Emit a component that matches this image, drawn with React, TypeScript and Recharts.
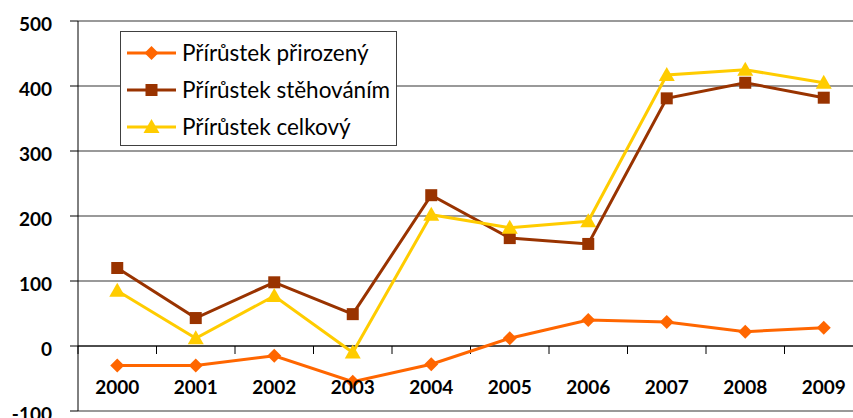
import { LineChart, Line, XAxis, YAxis, CartesianGrid, ReferenceLine, Legend } from 'recharts';

const years = ['2000', '2001', '2002', '2003', '2004', '2005', '2006', '2007', '2008', '2009'];
const prirozeny = [-30, -30, -15, -55, -28, 12, 40, 37, 22, 28];
const stehovanim = [120, 43, 98, 49, 232, 166, 157, 381, 405, 382];
const celkovy = [85, 12, 77, -10, 202, 182, 192, 417, 425, 405];
const yTicks = [-100, 0, 100, 200, 300, 400, 500];

const series = [
  { key: 'prirozeny', name: 'Přírůstek přirozený', color: '#FF6600', shape: 'diamond' },
  { key: 'stehovanim', name: 'Přírůstek stěhováním', color: '#993300', shape: 'square' },
  { key: 'celkovy', name: 'Přírůstek celkový', color: '#FFCC00', shape: 'triangle' },
];

const data = years.map((year, i) => ({
  year,
  prirozeny: prirozeny[i],
  stehovanim: stehovanim[i],
  celkovy: celkovy[i],
}));

const FONT = 'Lato, "Open Sans", sans-serif';

function marker(shape: string, cx: number, cy: number, color: string, key?: string | number) {
  if (shape === 'diamond') {
    return <polygon key={key} points={`${cx},${cy - 7} ${cx + 7},${cy} ${cx},${cy + 7} ${cx - 7},${cy}`} fill={color} />;
  }
  if (shape === 'square') {
    return <rect key={key} x={cx - 6} y={cy - 6} width={12} height={12} fill={color} />;
  }
  return <polygon key={key} points={`${cx},${cy - 8} ${cx + 8},${cy + 6} ${cx - 8},${cy + 6}`} fill={color} />;
}

const makeDot = (shape: string, color: string) => (props: any) => {
  const { cx, cy, index } = props;
  if (cx == null || cy == null) return <g key={index} />;
  return marker(shape, cx, cy, color, index);
};

function ZeroLine(props: any) {
  const { x1, x2, y1 } = props;
  const n = years.length;
  const step = (x2 - x1) / n;
  return (
    <g>
      <line x1={x1} x2={x2} y1={y1} y2={y1} stroke="#000" strokeWidth={1} />
      {years.map((_, i) => (
        <line key={i} x1={x1 + i * step} x2={x1 + i * step} y1={y1} y2={y1 + 8} stroke="#000" strokeWidth={1} />
      ))}
    </g>
  );
}

function YearTick(props: any) {
  const { x, y, payload } = props;
  return (
    <text x={x} y={y} dy={-25} textAnchor="middle" fontFamily={FONT} fontWeight="bold" fontSize={19} fill="#000">
      {payload.value}
    </text>
  );
}

function LegendBox() {
  return (
    <div
      style={{
        border: '1px solid #404040',
        background: '#fff',
        boxSizing: 'border-box',
        width: 277,
        height: 115,
        paddingTop: 2,
        fontFamily: FONT,
        fontSize: 22.5,
        color: '#000',
      }}
    >
      {series.map((s) => (
        <div key={s.key} style={{ display: 'flex', alignItems: 'center', height: 37 }}>
          <svg width={56} height={20} style={{ marginLeft: 5 }}>
            <line x1={1} x2={50} y1={10} y2={10} stroke={s.color} strokeWidth={3} />
            {marker(s.shape, 25.5, 10, s.color)}
          </svg>
          <span style={{ whiteSpace: 'nowrap' }}>{s.name}</span>
        </div>
      ))}
    </div>
  );
}

export default function App() {
  return (
    <div style={{ position: 'absolute', left: 0, top: 0, background: '#fff' }}>
      <LineChart width={853} height={418} data={data} margin={{ top: 21, right: -10, bottom: 6, left: 0 }}>
        <CartesianGrid vertical={false} stroke="#000" strokeOpacity={0.8} />
        <XAxis
          dataKey="year"
          scale="band"
          height={1}
          axisLine={false}
          tickLine={false}
          tick={<YearTick />}
          interval={0}
        />
        <YAxis
          width={78}
          domain={[-100, 500]}
          ticks={yTicks}
          interval={0}
          axisLine={{ stroke: '#000' }}
          tickLine={{ stroke: '#000' }}
          tickSize={8}
          tickMargin={18}
          tick={{ fontFamily: FONT, fontWeight: 'bold', fontSize: 19, fill: '#000', dy: 3 }}
        />
        <ReferenceLine y={0} shape={<ZeroLine />} />
        <Legend
          layout="horizontal"
          verticalAlign="middle"
          align="center"
          wrapperStyle={{ left: 120, top: 31, width: 277, height: 115 }}
          content={<LegendBox />}
        />
        {series.map((s) => (
          <Line
            key={s.key}
            type="linear"
            dataKey={s.key}
            name={s.name}
            stroke={s.color}
            strokeWidth={3}
            dot={makeDot(s.shape, s.color)}
            activeDot={false}
            isAnimationActive={false}
          />
        ))}
      </LineChart>
    </div>
  );
}
